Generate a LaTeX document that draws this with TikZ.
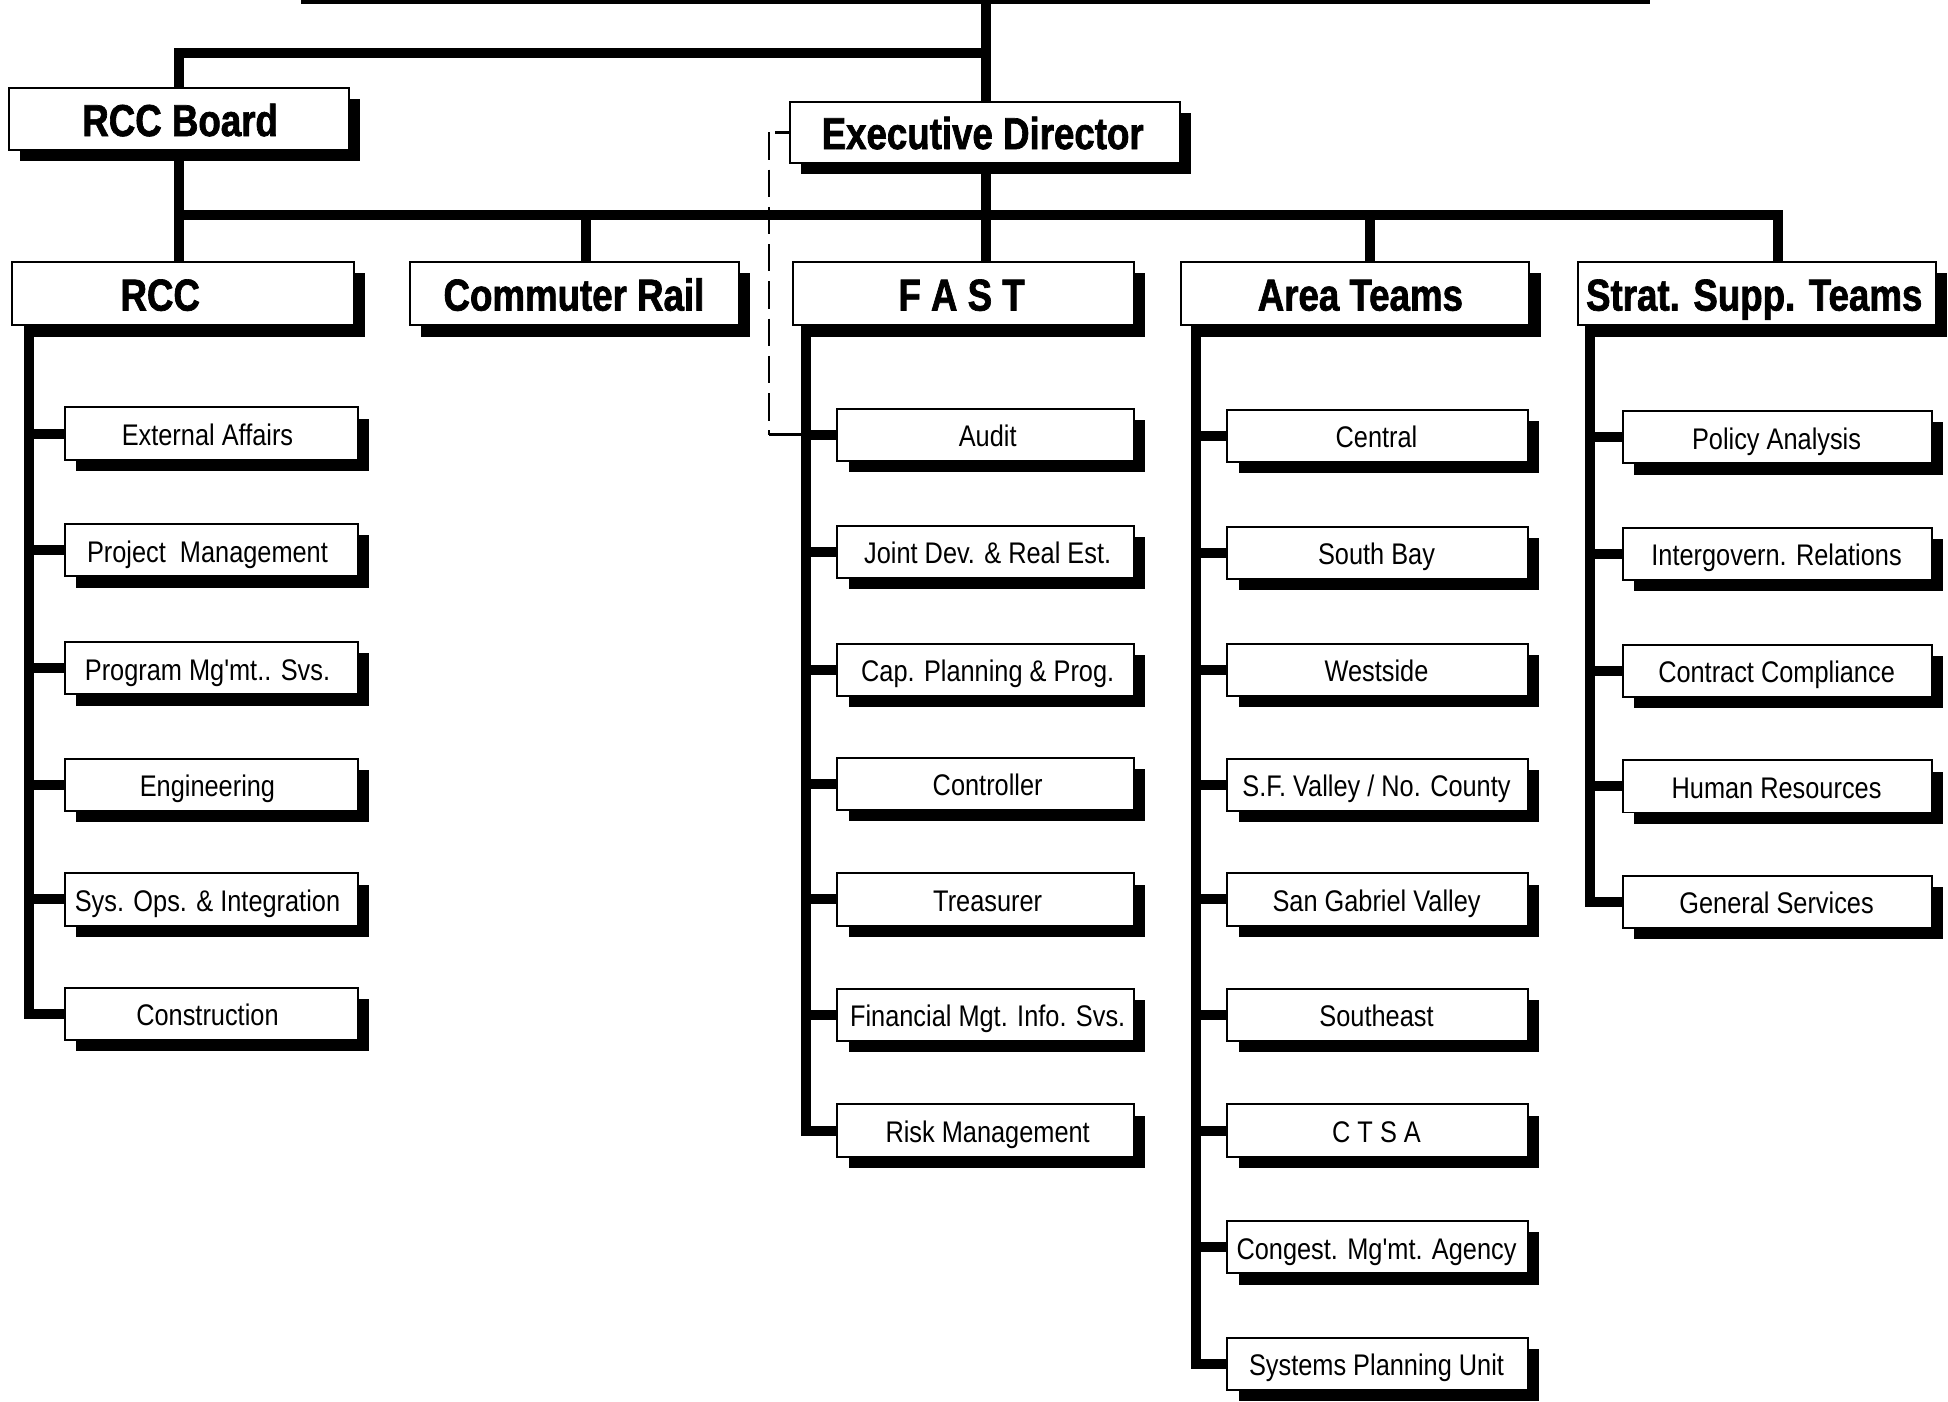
\documentclass[tikz,border=0pt]{standalone}
\usepackage{fontspec}
\newfontfamily\bodyfont{Liberation Sans}[FakeStretch=0.85]
\newfontfamily\headfont{Liberation Sans}[FakeStretch=0.82, BoldFeatures={FakeBold=1.5}]
\pgfdeclarelayer{bg}
\pgfsetlayers{bg,main}
\tikzset{
  conn/.style={line width=4pt, line cap=rect, line join=miter},
  boxst/.style={draw, line width=0.8pt, fill=white, inner sep=0pt, rectangle},
  headtxt/.style={font=\headfont\bfseries\fontsize{18}{20}\selectfont, inner sep=0pt},
  subtxt/.style={font=\bodyfont\fontsize{12}{14}\selectfont, inner sep=0pt},
  shadowst/.style={fill=black},
  dashln/.style={line width=1.1pt, dash pattern=on 11pt off 4pt},
  thinln/.style={line width=1.1pt}
}
% #1 name, #2 x1, #3 y1, #4 x2, #5 y2, #6 text x, #7 text, #8 text style, #9 baseline offset
\newcommand\obox[9]{%
  \pgfmathsetmacro\obw{(#4-(#2))*0.5}%
  \pgfmathsetmacro\obh{(#5-(#3))*0.5}%
  \pgfmathsetmacro\obcx{(#2+#4)/2}%
  \pgfmathsetmacro\obcy{(#3+#5)/2}%
  \fill[shadowst] (#2+9,#3+9) rectangle (#4+9,#5+9);
  \node[boxst, minimum width=\obw pt, minimum height=\obh pt] (#1) at (\obcx,\obcy) {};
  \node[#8, anchor=base] (#1t) at (#6,\obcy+#9) {#7};
}
\newcommand\cbox[6]{\obox{#1}{#2}{#4-21}{#3}{#4+21}{#5}{#6}{subtxt}{9.5}}
\begin{document}
\begin{tikzpicture}[x=0.5pt,y=-0.5pt]
\useasboundingbox (0,0) rectangle (1568,1128);

% top level boxes
\obox{rccb}{7}{71}{281}{121}{145}{RCC Board}{headtxt}{13.5}
\obox{ed}{636}{82}{950}{131}{791}{Executive Director}{headtxt}{13.5}

% second level
\obox{rcc}{10}{211}{285}{262}{129}{RCC}{headtxt}{13.5}
\obox{cr}{330}{211}{595}{262}{462}{Commuter Rail}{headtxt}{13.5}
\obox{fast}{638}{211}{913}{262}{774}{F A S T}{headtxt}{13.5}
\obox{at}{951}{211}{1231}{262}{1095}{Area Teams}{headtxt}{13.5}
\obox{ss}{1270}{211}{1558}{262}{1412}{Strat. Supp. Teams}{headtxt}{13.5}

% RCC column
\cbox{ea}{52}{288}{349}{167}{External Affairs}
\cbox{pm}{52}{288}{443}{167}{Project\ \ Management}
\cbox{pms}{52}{288}{538}{167}{Program Mg'mt.. Svs.}
\cbox{eng}{52}{288}{632}{167}{Engineering}
\cbox{soi}{52}{288}{724}{167}{Sys. Ops. \& Integration}
\cbox{con}{52}{288}{816}{167}{Construction}

% FAST column
\cbox{audit}{674}{913}{350}{795}{Audit}
\cbox{jd}{674}{913}{444}{795}{Joint Dev. \& Real Est.}
\cbox{cpp}{674}{913}{539}{795}{Cap. Planning \& Prog.}
\cbox{ctl}{674}{913}{631}{795}{Controller}
\cbox{tre}{674}{913}{724}{795}{Treasurer}
\cbox{fin}{674}{913}{817}{795}{Financial Mgt. Info. Svs.}
\cbox{risk}{674}{913}{910}{795}{Risk Management}

% Area Teams column
\cbox{cen}{988}{1230}{351}{1108}{Central}
\cbox{sb}{988}{1230}{445}{1108}{South Bay}
\cbox{ws}{988}{1230}{539}{1108}{Westside}
\cbox{sfv}{988}{1230}{632}{1108}{S.F. Valley / No. County}
\cbox{sgv}{988}{1230}{724}{1108}{San Gabriel Valley}
\cbox{se}{988}{1230}{817}{1108}{Southeast}
\cbox{ctsa}{988}{1230}{910}{1108}{C T S A}
\cbox{cmg}{988}{1230}{1004}{1108}{Congest. Mg'mt. Agency}
\cbox{spu}{988}{1230}{1098}{1108}{Systems Planning Unit}

% Strategic support column
\cbox{pa}{1306}{1555}{352}{1430}{Policy Analysis}
\cbox{igr}{1306}{1555}{446}{1430}{Intergovern. Relations}
\cbox{cc}{1306}{1555}{540}{1430}{Contract Compliance}
\cbox{hr}{1306}{1555}{633}{1430}{Human Resources}
\cbox{gs}{1306}{1555}{726}{1430}{General Services}

% helper coordinates
\coordinate (tl) at (246,-1);
\coordinate (tr) at (1324,-1);
\coordinate (j1) at (794,43);
\coordinate (bar) at (0,173);
\coordinate (dcr) at (472,173);
\coordinate (dat) at (1103,173);
\coordinate (dss) at (1431,173);
\coordinate (sprcc) at (23,0);
\coordinate (spfast) at (649,0);
\coordinate (sparea) at (963,0);
\coordinate (spss) at (1280,0);
\coordinate (dsh) at (619,0);
\coordinate (tick) at (624,0);

\begin{pgfonlayer}{bg}
\draw[conn] (tl) -- (tr);
\draw[conn] (ed.north -| j1) -- (j1 |- tl);
\draw[conn] (j1) -| (rccb.north);
\draw[conn] (ed.south -| j1) -- (j1 |- fast.north);
\draw[conn] (rccb.south) -- (rccb.south |- rcc.north);
\draw[conn] (rccb.south |- bar) -- (dss) -- (dss |- ss.north);
\draw[conn] (dcr) -- (dcr |- cr.north);
\draw[conn] (dat) -- (dat |- at.north);

\draw[conn] (sprcc |- rcc.south) |- (con.west);
\foreach \c in {ea,pm,pms,eng,soi} \draw[conn] (\c.west) -- (\c.west -| sprcc);
\draw[conn] (spfast |- fast.south) |- (risk.west);
\foreach \c in {audit,jd,cpp,ctl,tre,fin} \draw[conn] (\c.west) -- (\c.west -| spfast);
\draw[conn] (sparea |- at.south) |- (spu.west);
\foreach \c in {cen,sb,ws,sfv,sgv,se,ctsa,cmg} \draw[conn] (\c.west) -- (\c.west -| sparea);
\draw[conn] (spss |- ss.south) |- (gs.west);
\foreach \c in {pa,igr,cc,hr} \draw[conn] (\c.west) -- (\c.west -| spss);

\draw[thinln] (ed.west) -- (ed.west -| tick);
\draw[dashln] (ed.west -| dsh) -- (dsh |- audit.west);
\draw[thinln] (dsh |- audit.west) -- (audit.west -| spfast);
\end{pgfonlayer}
\end{tikzpicture}
\end{document}
